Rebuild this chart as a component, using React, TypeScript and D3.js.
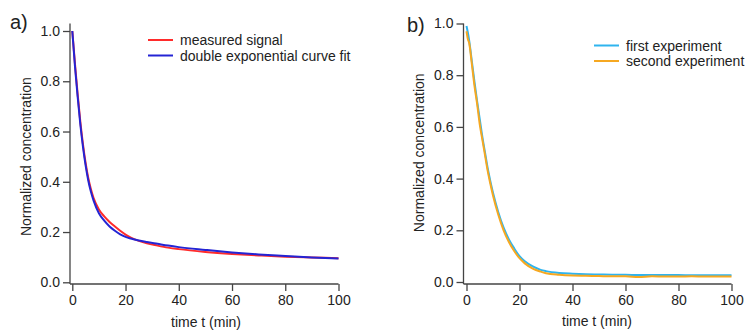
import { useEffect, useRef } from "react";
import * as d3 from "d3";

// panel a) decay of the measured signal and its double exponential fit
const timeA = [ 0, 1, 1.5, 2, 3, 4, 5, 6, 7, 8, 10, 12, 14, 16, 18, 20, 22, 25, 28, 32, 36, 40, 50, 60, 70, 80, 90, 100 ];
const measuredSignal = [ 1.0, 0.87, 0.81, 0.75, 0.64, 0.55, 0.475, 0.415, 0.37, 0.335, 0.29, 0.262, 0.24, 0.222, 0.205, 0.19, 0.178, 0.165, 0.155, 0.146, 0.138, 0.132, 0.121, 0.113, 0.107, 0.102, 0.099, 0.096 ];
const curveFit = [ 1.0, 0.86, 0.8, 0.74, 0.63, 0.54, 0.465, 0.405, 0.36, 0.325, 0.275, 0.245, 0.222, 0.205, 0.191, 0.181, 0.174, 0.166, 0.16, 0.153, 0.146, 0.14, 0.129, 0.119, 0.111, 0.105, 0.099, 0.095 ];

// panel b) two repeated experiments
const timeB = [ 0, 0.5, 1, 2, 3, 4, 5, 6, 7, 8, 9, 10, 12, 14, 16, 18, 20, 22, 25, 28, 30, 35, 40, 45, 50, 55, 60, 65, 70, 75, 80, 85, 90, 95, 100 ];
const firstExperiment = [ 0.99, 0.965, 0.935, 0.855, 0.775, 0.7, 0.63, 0.56, 0.5, 0.44, 0.39, 0.345, 0.27, 0.21, 0.165, 0.13, 0.1, 0.08, 0.06, 0.047, 0.042, 0.035, 0.032, 0.03, 0.029, 0.028, 0.028, 0.027, 0.027, 0.027, 0.027, 0.026, 0.026, 0.026, 0.026 ];
const secondExperiment = [ 0.97, 0.94, 0.925, 0.845, 0.76, 0.69, 0.61, 0.55, 0.49, 0.43, 0.38, 0.335, 0.26, 0.2, 0.155, 0.12, 0.092, 0.072, 0.052, 0.04, 0.034, 0.028, 0.025, 0.024, 0.023, 0.022, 0.022, 0.019, 0.022, 0.021, 0.021, 0.022, 0.021, 0.021, 0.021 ];

const xTicks = [ 0, 20, 40, 60, 80, 100 ];
const yTicks = [ 0, 0.2, 0.4, 0.6, 0.8, 1.0 ];

const FONT = "'Liberation Sans', Arial, sans-serif";
const TEXT = "#222";
const AXIS = "#444";

interface Series
{
    name: string;
    time: number[];
    values: number[];
    color: string;
}

interface PanelSpec
{
    tag: string;
    axisX: number;
    x0: number;
    x1: number;
    y0: number;
    y1: number;
    axisTop: number;
    axisY: number;
    tagX: number;
    tagY: number;
    yTitleX: number;
    xTitleX: number;
    xTitleY: number;
    legendX: number;
    legendY: number;
    series: Series[];
}

const panels: PanelSpec[] = [
    {
        tag: "a)", axisX: 70, x0: 72.3, x1: 338.5, y0: 282.3, y1: 31, axisTop: 23.5, axisY: 284,
        tagX: 10, tagY: 29, yTitleX: 30.5, xTitleX: 206, xTitleY: 327, legendX: 148, legendY: 40,
        series: [
            { name: "measured signal", time: timeA, values: measuredSignal, color: "#ff2b2b" },
            { name: "double exponential curve fit", time: timeA, values: curveFit, color: "#2424d4" },
        ],
    },
    {
        tag: "b)", axisX: 463.5, x0: 466.5, x1: 731.5, y0: 282, y1: 23.5, axisTop: 23.5, axisY: 284,
        tagX: 407, tagY: 32, yTitleX: 423.5, xTitleX: 597, xTitleY: 325.5, legendX: 594, legendY: 45.5,
        series: [
            { name: "first experiment", time: timeB, values: firstExperiment, color: "#2fb4ee" },
            { name: "second experiment", time: timeB, values: secondExperiment, color: "#f6a821" },
        ],
    },
];

export default function App ()
{
    const svgRef = useRef<SVGSVGElement>( null );

    useEffect( () =>
    {
        if ( !svgRef.current ) return;
        const svg = d3.select( svgRef.current );
        svg.selectAll( "*" ).remove();

        panels.forEach( ( p ) =>
        {
            const g = svg.append( "g" );
            const x = d3.scaleLinear().domain( [ 0, 100 ] ).range( [ p.x0, p.x1 ] );
            const y = d3.scaleLinear().domain( [ 0, 1 ] ).range( [ p.y0, p.y1 ] );

            // Axes
            const yAxis = g.append( "g" ).attr( "transform", `translate(${ p.axisX },0)` )
                .call( d3.axisLeft( y ).tickValues( yTicks ).tickSize( 7 ).tickPadding( 3 ).tickFormat( d3.format( ".1f" ) ) );
            yAxis.select( ".domain" ).attr( "d", `M0,${ p.axisTop }V${ p.axisY }` );

            const xAxis = g.append( "g" ).attr( "transform", `translate(0,${ p.axisY })` )
                .call( d3.axisBottom( x ).tickValues( xTicks ).tickSize( 7 ).tickPadding( 4 ).tickFormat( d3.format( "d" ) ) );
            xAxis.select( ".domain" ).attr( "d", `M${ p.axisX },0H${ x( 100 ) }` );

            [ yAxis, xAxis ].forEach( ( a ) =>
            {
                a.select( ".domain" ).attr( "stroke", AXIS ).attr( "stroke-width", 1.3 );
                a.selectAll( ".tick line" ).attr( "stroke", AXIS ).attr( "stroke-width", 1.3 );
                a.selectAll( "text" ).attr( "fill", TEXT ).style( "font-size", "14px" ).style( "font-family", FONT );
            } );

            // Lines
            p.series.forEach( ( s ) =>
            {
                const pts = s.time.map( ( t, i ) => [ t, s.values[ i ] ] as [ number, number ] );
                const line = d3.line<[ number, number ]>().x( ( d ) => x( d[ 0 ] ) ).y( ( d ) => y( d[ 1 ] ) ).curve( d3.curveMonotoneX );
                g.append( "path" ).datum( pts ).attr( "fill", "none" ).attr( "stroke", s.color )
                    .attr( "stroke-width", 2 ).attr( "stroke-linejoin", "round" ).attr( "d", line );
            } );

            // Legend
            p.series.forEach( ( s, i ) =>
            {
                const ly = p.legendY + i * 15.5;
                g.append( "line" ).attr( "x1", p.legendX ).attr( "x2", p.legendX + 25 ).attr( "y1", ly ).attr( "y2", ly )
                    .attr( "stroke", s.color ).attr( "stroke-width", 2 );
                g.append( "text" ).attr( "x", p.legendX + 32 ).attr( "y", ly + 5 ).attr( "fill", TEXT )
                    .style( "font-size", "14px" ).style( "font-family", FONT ).text( s.name );
            } );

            // Titles
            g.append( "text" ).attr( "x", p.tagX ).attr( "y", p.tagY ).attr( "fill", TEXT )
                .style( "font-size", "20px" ).style( "font-family", FONT ).text( p.tag );
            g.append( "text" ).attr( "transform", `translate(${ p.yTitleX },${ ( p.y0 + p.y1 ) / 2 }) rotate(-90)` )
                .attr( "text-anchor", "middle" ).attr( "fill", TEXT )
                .style( "font-size", "14px" ).style( "font-family", FONT ).text( "Normalized concentration" );
            g.append( "text" ).attr( "x", p.xTitleX ).attr( "y", p.xTitleY ).attr( "text-anchor", "middle" ).attr( "fill", TEXT )
                .style( "font-size", "14px" ).style( "font-family", FONT ).text( "time t (min)" );
        } );
    }, [] );

    return (
        <svg ref={ svgRef } width={ 745 } height={ 331 }
            style={ { position: "absolute", left: 0, top: 0, background: "#fff" } } />
    );
}
